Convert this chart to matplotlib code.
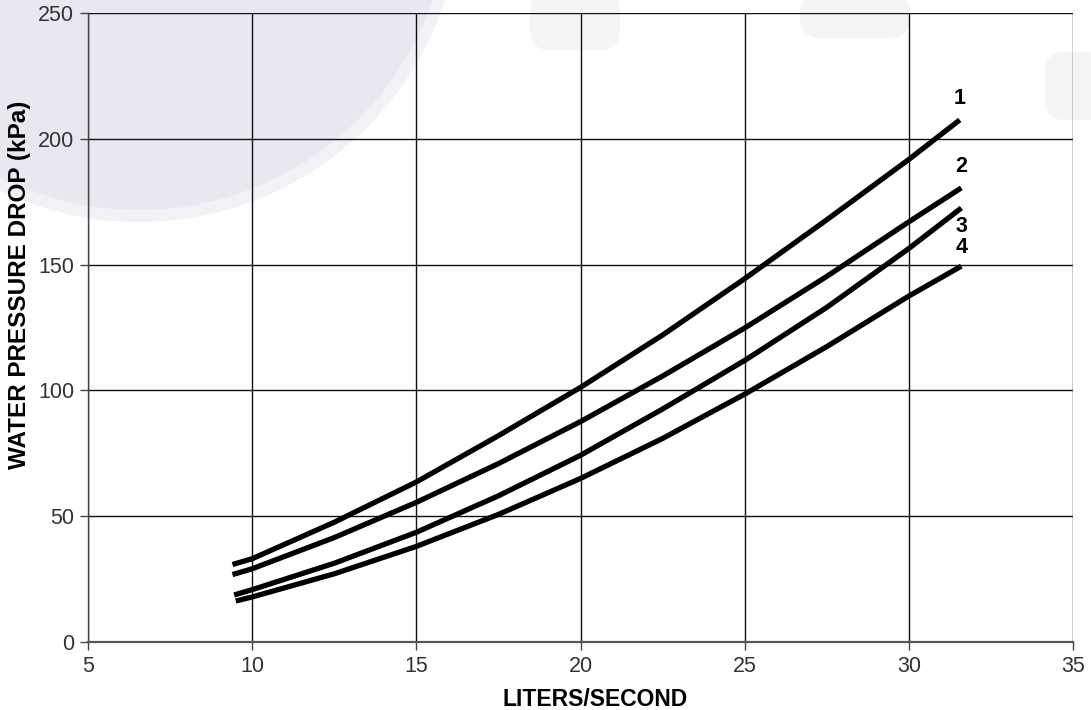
import matplotlib
matplotlib.use("Agg")
import matplotlib.pyplot as plt
from matplotlib.patches import Circle, FancyBboxPatch

plt.rcParams['font.family'] = ['Liberation Sans', 'DejaVu Sans']

# ---- data ----
x_c1 = [9.4, 10, 12.5, 15, 17.5, 20, 22.5, 25, 27.5, 30, 31.55]
y_c1 = [30.8, 33.1, 47.6, 63.6, 82.0, 101.2, 122.0, 144.4, 167.8, 191.8, 207.5]
x_c2 = [9.4, 10, 12.5, 15, 17.5, 20, 22.5, 25, 27.5, 30, 31.6]
y_c2 = [26.8, 29.1, 41.5, 55.5, 70.9, 87.6, 105.7, 124.8, 145.3, 167.0, 180.5]
x_c3 = [9.45, 10, 12.5, 15, 17.5, 20, 22.5, 25, 27.5, 30, 31.6]
y_c3 = [18.7, 20.8, 31.3, 43.6, 58.1, 74.2, 92.6, 111.9, 133.0, 156.4, 172.5]
x_c4 = [9.5, 10, 12.5, 15, 17.5, 20, 22.5, 25, 27.5, 30, 31.6]
y_c4 = [16.3, 17.9, 27.1, 38.0, 50.7, 65.0, 80.9, 98.5, 117.4, 137.5, 149.4]
curve_labels = ['1', '2', '3', '4']
x_ticks = [5, 10, 15, 20, 25, 30, 35]
y_ticks = [0, 50, 100, 150, 200, 250]
x_title = 'LITERS/SECOND'
y_title = 'WATER PRESSURE DROP (kPa)'

W, H, DPI = 1091, 710, 100
fig = plt.figure(figsize=(W / DPI, H / DPI), dpi=DPI)
fig.patch.set_facecolor('white')

# faint background watermark
ring = Circle((139 / DPI, (H + 100) / DPI), 322 / DPI, transform=fig.dpi_scale_trans,
              facecolor='#f2f2f6', edgecolor='none', zorder=0)
disc = Circle((139 / DPI, (H + 100) / DPI), 310 / DPI, transform=fig.dpi_scale_trans,
              facecolor='#e8e8f0', edgecolor='none', zorder=0)
fig.add_artist(ring)
fig.add_artist(disc)
for (px, py, w, h) in [(530, 660, 90, 60), (800, 672, 110, 45),
                       (1045, 590, 60, 68)]:
    fig.add_artist(FancyBboxPatch((px / DPI, py / DPI), w / DPI, h / DPI,
                                  boxstyle='round,pad=0,rounding_size=0.2',
                                  transform=fig.dpi_scale_trans,
                                  facecolor='#f5f5f5', edgecolor='none', zorder=0))

ax = fig.add_axes([88 / W, 1 - 642 / H, (1073 - 88) / W, (642 - 13) / H])
ax.set_facecolor('none')
ax.set_zorder(1)

for xs, ys in [(x_c1, y_c1), (x_c2, y_c2), (x_c3, y_c3), (x_c4, y_c4)]:
    ax.plot(xs, ys, color='black', lw=3.8, solid_capstyle='butt',
            solid_joinstyle='round', zorder=3)

label_offsets = [8.5, 8.5, -7.5, 7.5]
for lab, xs, ys, off in zip(curve_labels, [x_c1, x_c2, x_c3, x_c4],
                            [y_c1, y_c2, y_c3, y_c4], label_offsets):
    ax.text(xs[-1], ys[-1] + off, lab, ha='center', va='center',
            fontsize=15.5, fontweight='bold', color='black', zorder=4)

ax.set_xlim(x_ticks[0], x_ticks[-1])
ax.set_ylim(y_ticks[0], y_ticks[-1])
ax.set_xticks(x_ticks)
ax.set_yticks(y_ticks)
ax.grid(True, color='#111111', lw=1.0, zorder=1)
ax.set_axisbelow(True)

for s in ['top', 'right']:
    ax.spines[s].set_visible(False)
ax.spines['bottom'].set_color('#555555')
ax.spines['bottom'].set_linewidth(1.6)
ax.spines['left'].set_color('#444444')
ax.spines['left'].set_linewidth(1.0)

ax.tick_params(axis='both', direction='out', length=6, width=1.0, color='#444444',
               labelsize=15.5, labelcolor='#333333', pad=4)

ax.set_xlabel(x_title, fontsize=16.5, fontweight='bold')
ax.set_ylabel(y_title, fontsize=17.5, fontweight='bold')
ax.xaxis.label.set_va('center')
ax.yaxis.label.set_va('center')
ax.xaxis.set_label_coords((595 - 88) / 985, (642 - 699) / 629)
ax.yaxis.set_label_coords((20 - 88) / 985, (642 - 285) / 629)

fig.savefig('out.png', dpi=DPI)
